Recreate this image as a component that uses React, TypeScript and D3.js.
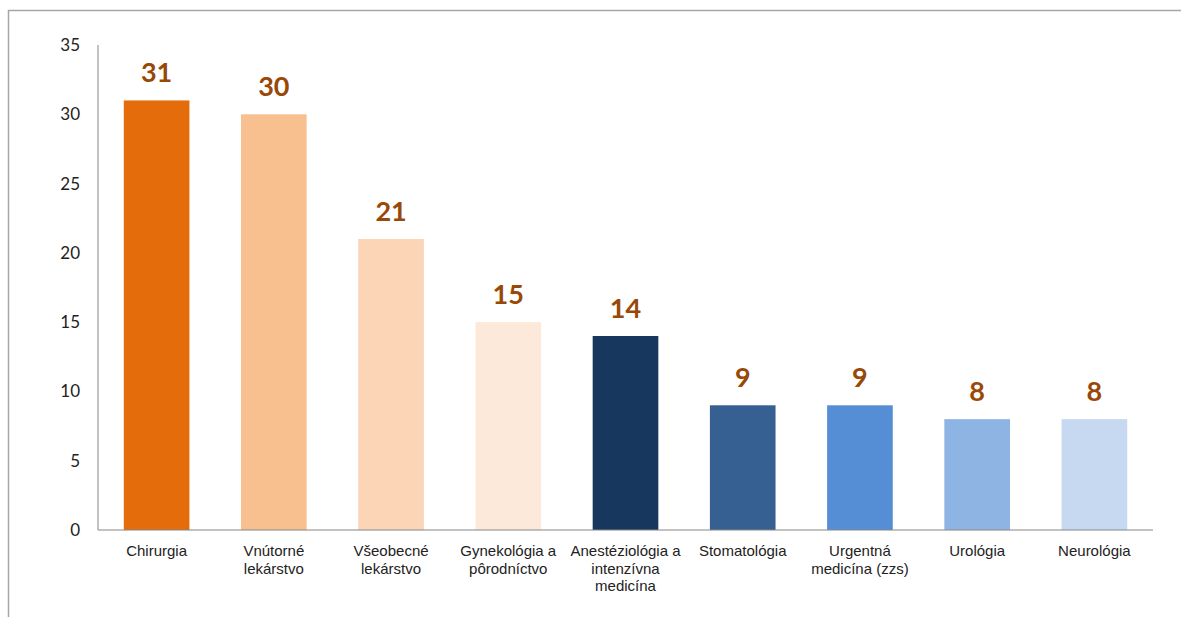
import React from "react";
import { scaleBand, scaleLinear } from "d3";

const categories = [
  ["Chirurgia"],
  ["Vnútorné", "lekárstvo"],
  ["Všeobecné", "lekárstvo"],
  ["Gynekológia a", "pôrodníctvo"],
  ["Anestéziológia a", "intenzívna", "medicína"],
  ["Stomatológia"],
  ["Urgentná", "medicína (zzs)"],
  ["Urológia"],
  ["Neurológia"],
];
const values = [31, 30, 21, 15, 14, 9, 9, 8, 8];
const barColors = [
  "#E46C0A",
  "#F9C08F",
  "#FBD5B5",
  "#FDE9D9",
  "#17375E",
  "#376092",
  "#558ED5",
  "#8EB4E3",
  "#C6D9F1",
];
const yTicks = [0, 5, 10, 15, 20, 25, 30, 35];

const width = 1181;
const height = 617;
const margin = { left: 98, right: 28, top: 45, bottom: 87 };

const App = () => {
  const x = scaleBand<number>()
    .domain(values.map((_, i) => i))
    .range([margin.left, width - margin.right])
    .paddingInner(0.44)
    .paddingOuter(0.22);
  const y = scaleLinear()
    .domain([0, 35])
    .range([height - margin.bottom, margin.top]);

  const axisColor = "#868686";

  return (
    <svg
      width={width}
      height={height}
      style={{ position: "absolute", left: 0, top: 0, background: "#fff" }}
    >
      {/* outer frame */}
      <rect x={8.5} y={10.5} width={width} height={height} fill="none" stroke="#a6a6a6" strokeWidth={1.5} />

      {/* y axis */}
      <line x1={margin.left} x2={margin.left} y1={y(35)} y2={y(0)} stroke={axisColor} />
      {yTicks.map((t) => (
        <text
          key={t}
          x={margin.left - 18}
          y={y(t)}
          dy="0.35em"
          textAnchor="end"
          fontFamily="Lato, 'Open Sans', sans-serif"
          fontSize={17}
          fill="#222"
        >
          {t}
        </text>
      ))}

      {/* bars */}
      {values.map((v, i) => (
        <rect
          key={i}
          x={x(i)}
          y={y(v)}
          width={x.bandwidth()}
          height={y(0) - y(v)}
          fill={barColors[i]}
        />
      ))}

      {/* value labels */}
      {values.map((v, i) => (
        <text
          key={i}
          x={(x(i) ?? 0) + x.bandwidth() / 2}
          y={y(v) - 18}
          textAnchor="middle"
          fontFamily="Lato, 'Open Sans', sans-serif"
          fontWeight="bold"
          fontSize={27}
          fill="#984807"
        >
          {v}
        </text>
      ))}

      {/* x axis */}
      <line x1={margin.left} x2={width - margin.right} y1={y(0)} y2={y(0)} stroke={axisColor} />
      {categories.map((lines, i) => (
        <text
          key={i}
          x={(x(i) ?? 0) + x.bandwidth() / 2}
          y={y(0) + 26}
          textAnchor="middle"
          fontFamily="'Liberation Sans', Arial, sans-serif"
          fontSize={15}
          fill="#222"
        >
          {lines.map((l, j) => (
            <tspan key={j} x={(x(i) ?? 0) + x.bandwidth() / 2} dy={j === 0 ? 0 : 17.5}>
              {l}
            </tspan>
          ))}
        </text>
      ))}
    </svg>
  );
};

export default App;
